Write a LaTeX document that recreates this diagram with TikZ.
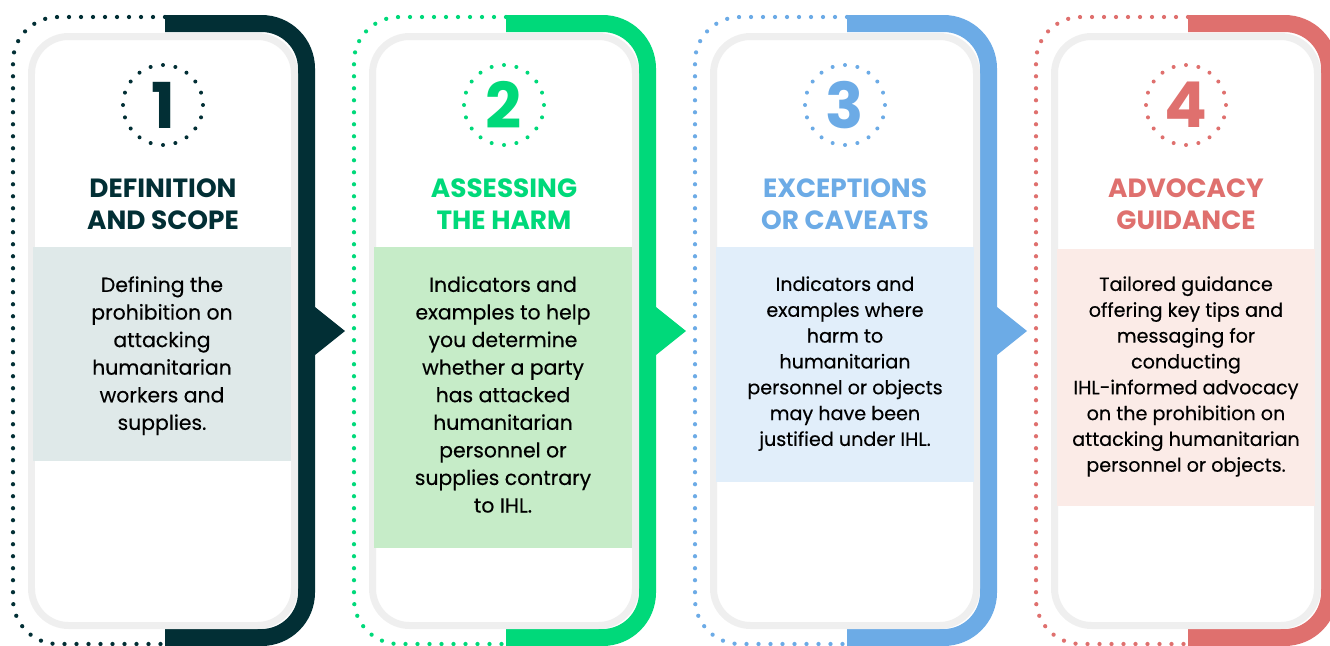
\documentclass[tikz,border=0pt]{standalone}
\usepackage{fontspec}
\setmainfont{Poppins}
\newfontfamily\bodyfont{Poppins}[FakeBold=0.35]
\usepackage{xcolor}
\usetikzlibrary{positioning}

\definecolor{tealdark}{HTML}{022F35}
\definecolor{tealbox}{HTML}{DFE9E9}
\definecolor{greenmain}{HTML}{00D97A}
\definecolor{greenbox}{HTML}{C6ECC8}
\definecolor{bluemain}{HTML}{6CABE6}
\definecolor{bluebox}{HTML}{E1EEFA}
\definecolor{redmain}{HTML}{DF706E}
\definecolor{redbox}{HTML}{FBEBE7}
\definecolor{cardgray}{HTML}{EFEFEF}

% frame of one step: dotted half, thick half, inner card
\newcommand{\stepframe}[2]{%
  \draw[dotframe, draw=#2] ({#1+165},17) -- ({#1+13},17) -- ({#1+13},644) -- ({#1+165},644);
  \draw[bandframe, draw=#2] ({#1+165},23.5) -- ({#1+306.5},23.5) -- ({#1+306.5},637.5) -- ({#1+165},637.5);
  \draw[cardframe] ({#1+31.5},36.5) rectangle ({#1+294.5},625.5);
}
\newcommand{\stepnotch}[2]{%
  \fill[#2] ({#1+305},307) -- ({#1+315},307) -- ({#1+345},331) -- ({#1+315},355) -- ({#1+305},355) -- cycle;
}

\begin{document}
\begin{tikzpicture}[x=0.02cm, y=-0.02cm,
    dotframe/.style={line width=0.085cm, line cap=round, dash pattern=on 0pt off 0.24cm, rounded corners=0.9cm},
    bandframe/.style={line width=0.34cm, rounded corners=0.9cm},
    cardframe/.style={draw=cardgray, fill=white, line width=0.14cm, rounded corners=0.74cm},
    numring/.style={circle, minimum size=1.6cm, inner sep=0pt, line width=0.08cm, line cap=round, dash pattern=on 0pt off 0.2513cm, font=\fontsize{36}{40}\selectfont\bfseries},
    steptitle/.style={align=center, inner sep=0pt, font=\fontsize{15}{18.7}\selectfont\bfseries},
    infobox/.style={rectangle, minimum width=5.16cm, inner sep=0pt, anchor=north},
    bodytext/.style={align=center, inner sep=0pt, font=\bodyfont\fontsize{11.6}{15.7}\selectfont},
    bodysmall/.style={align=center, inner sep=0pt, font=\bodyfont\fontsize{10.9}{14.7}\selectfont}]
  \useasboundingbox (0,0) rectangle (1330,646);
  \clip (0,0) rectangle (1330,646);

  \stepframe{0}{tealdark}
  \stepnotch{0}{tealdark}
  \stepframe{341}{greenmain}
  \stepnotch{341}{greenmain}
  \stepframe{682}{bluemain}
  \stepnotch{682}{bluemain}
  \stepframe{1023}{redmain}

  % step 1
  \node[numring, draw=tealdark, text=tealdark] (num1) at (163,105) {1};
  \node[steptitle, text=tealdark, below=0.62cm of num1] (title1) {DEFINITION\\AND SCOPE};
  \node[infobox, fill=tealbox, minimum height=4.28cm] (box1) at (162,247) {};
  \node[bodytext, below=0.58cm of box1.north] (text1) {Defining the\\prohibition on\\attacking\\humanitarian\\workers and\\supplies.};

  % step 2
  \node[numring, draw=greenmain, text=greenmain] (num2) at (504,105) {2};
  \node[steptitle, text=greenmain, below=0.62cm of num2] (title2) {ASSESSING\\THE HARM};
  \node[infobox, fill=greenbox, minimum height=6.02cm] (box2) at (503,247) {};
  \node[bodytext, below=0.58cm of box2.north] (text2) {Indicators and\\examples to help\\you determine\\whether a party\\has attacked\\humanitarian\\personnel or\\supplies contrary\\to IHL.};

  % step 3
  \node[numring, draw=bluemain, text=bluemain] (num3) at (845,105) {3};
  \node[steptitle, text=bluemain, below=0.62cm of num3] (title3) {EXCEPTIONS\\OR CAVEATS};
  \node[infobox, fill=bluebox, minimum height=4.7cm] (box3) at (845,247) {};
  \node[bodysmall, below=0.58cm of box3.north] (text3) {Indicators and\\examples where\\harm to\\humanitarian\\personnel or objects\\may have been\\justified under IHL.};

  % step 4
  \node[numring, draw=redmain, text=redmain] (num4) at (1186,105) {4};
  \node[steptitle, text=redmain, below=0.62cm of num4] (title4) {ADVOCACY\\GUIDANCE};
  \node[infobox, fill=redbox, minimum height=5.14cm] (box4) at (1186,249) {};
  \node[bodysmall, below=0.54cm of box4.north] (text4) {Tailored guidance\\offering key tips and\\messaging for\\conducting\\IHL-informed advocacy\\on the prohibition on\\attacking humanitarian\\personnel or objects.};
\end{tikzpicture}
\end{document}
